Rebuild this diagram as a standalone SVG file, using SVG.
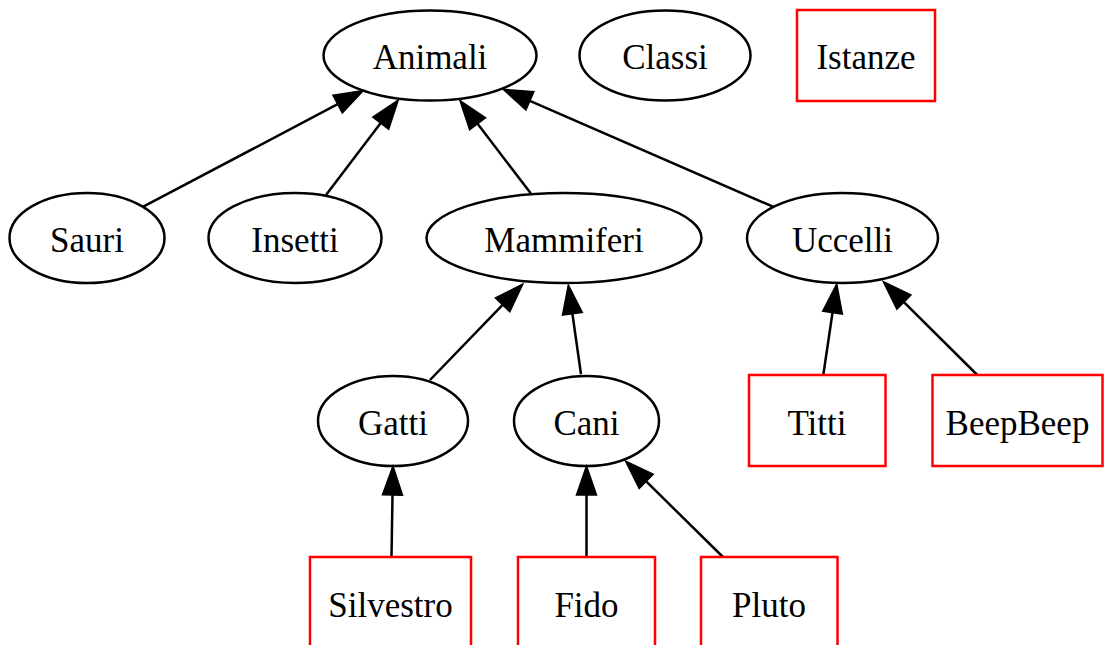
<svg xmlns="http://www.w3.org/2000/svg" width="1104" height="645" viewBox="0 0 1104 645">
<style>
.cls ellipse{fill:none;stroke:#000;stroke-width:2.5}
.inst rect{fill:none;stroke:#ff0000;stroke-width:2.5}
text{font-family:"Liberation Serif","Times New Roman",serif;font-size:35px;fill:#000;text-anchor:middle}
.edges line{stroke:#000;stroke-width:2.5;marker-end:url(#arr)}
</style>
<defs>
<marker id="arr" markerUnits="userSpaceOnUse" markerWidth="31" markerHeight="22" refX="0" refY="10" orient="auto" overflow="visible">
<path d="M0,0 L29,10 L0,20 Z" fill="#000" stroke="#000" stroke-width="1.5" stroke-linejoin="miter"/>
</marker>
</defs>
<rect width="1104" height="645" fill="#fff"/>
<g class="edges" id="edges">
<line x1="143.3" y1="206.7" x2="337.65" y2="104.2"/>
<line x1="326" y1="195" x2="380.7" y2="123.1"/>
<line x1="530.7" y1="193.3" x2="477.6" y2="123.75"/>
<line x1="773" y1="206.7" x2="529.9" y2="100.9"/>
<line x1="430" y1="380" x2="502.6" y2="304.9"/>
<line x1="581" y1="374.3" x2="572.4" y2="313.7"/>
<line x1="823.3" y1="375" x2="832.5" y2="312.7"/>
<line x1="977.3" y1="375" x2="903.9" y2="302.1"/>
<line x1="391.5" y1="557" x2="392.5" y2="495"/>
<line x1="586.5" y1="557" x2="586.5" y2="495"/>
<line x1="723" y1="557" x2="646.2" y2="481.4"/>
</g>
<g id="Animali" class="cls"><ellipse cx="430" cy="55.5" rx="106.5" ry="45"/><text x="430" y="68.5">Animali</text></g>
<g id="Classi" class="cls"><ellipse cx="665" cy="55.5" rx="85.5" ry="45"/><text x="665" y="68.5">Classi</text></g>
<g id="Istanze" class="inst"><rect x="797" y="10" width="138" height="91"/><text x="866" y="68.5">Istanze</text></g>
<g id="Sauri" class="cls"><ellipse cx="87" cy="238" rx="77.5" ry="45"/><text x="87" y="251.5">Sauri</text></g>
<g id="Insetti" class="cls"><ellipse cx="295" cy="238" rx="86.5" ry="45"/><text x="295" y="251.5">Insetti</text></g>
<g id="Mammiferi" class="cls"><ellipse cx="564" cy="238" rx="137.5" ry="45"/><text x="564" y="251.5">Mammiferi</text></g>
<g id="Uccelli" class="cls"><ellipse cx="842.5" cy="238" rx="95.5" ry="45"/><text x="842.5" y="251.5">Uccelli</text></g>
<g id="Gatti" class="cls"><ellipse cx="393" cy="421" rx="75" ry="45"/><text x="393" y="434.5">Gatti</text></g>
<g id="Cani" class="cls"><ellipse cx="586.5" cy="421" rx="72.5" ry="45"/><text x="586.5" y="434.5">Cani</text></g>
<g id="Titti" class="inst"><rect x="749" y="375" width="136.5" height="91"/><text x="817" y="434.5">Titti</text></g>
<g id="BeepBeep" class="inst"><rect x="932.5" y="375" width="170" height="91"/><text x="1017.5" y="434.5">BeepBeep</text></g>
<g id="Silvestro" class="inst"><rect x="310" y="557" width="161" height="91"/><text x="390.5" y="616.5">Silvestro</text></g>
<g id="Fido" class="inst"><rect x="518" y="557" width="137" height="91"/><text x="586.5" y="616.5">Fido</text></g>
<g id="Pluto" class="inst"><rect x="701" y="557" width="136.5" height="91"/><text x="769" y="616.5">Pluto</text></g>
</svg>
